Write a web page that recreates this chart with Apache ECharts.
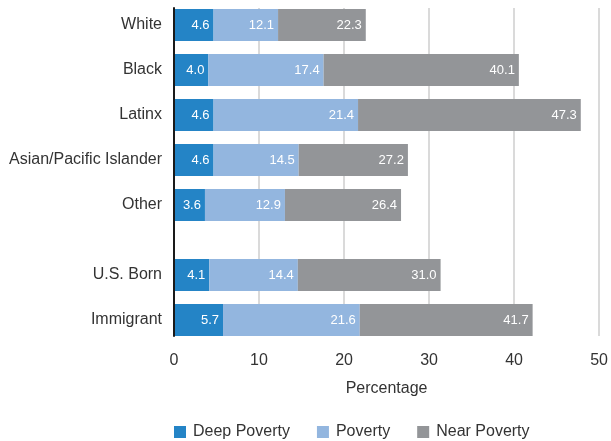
<!DOCTYPE html>
<html>
<head>
<meta charset="utf-8">
<script src="https://cdn.jsdelivr.net/npm/echarts@6/dist/echarts.min.js"></script>
<style>
  html, body { margin: 0; padding: 0; background: #fff; }
  #chart { width: 611px; height: 441px; }
</style>
</head>
<body>
<div id="chart"></div>
<script>
// groups: race/ethnicity on top, nativity below (separate block)
const raceCategories = ['White', 'Black', 'Latinx', 'Asian/Pacific Islander', 'Other'];
const nativityCategories = ['U.S. Born', 'Immigrant'];
const seriesNames = ['Deep Poverty', 'Poverty', 'Near Poverty'];

// cumulative values as printed on the bars
const raceDeep = [4.6, 4.0, 4.6, 4.6, 3.6];
const racePoverty = [12.1, 17.4, 21.4, 14.5, 12.9];
const raceNear = [22.3, 40.1, 47.3, 27.2, 26.4];

const nativityDeep = [4.1, 5.7];
const nativityPoverty = [14.4, 21.6];
const nativityNear = [31.0, 41.7];

const xTicks = [0, 10, 20, 30, 40, 50];

const colors = ['#2484c6', '#93b6df', '#939598'];
const textColor = '#333';
const font = 'Liberation Sans, Arial, Helvetica, sans-serif';

const chart = echarts.init(document.getElementById('chart'), null, { renderer: 'canvas' });

// stacked segment = difference between consecutive cumulative values
function segments(deep, pov, near) {
  return [
    deep.map((v) => ({ value: v, total: v })),
    pov.map((v, i) => ({ value: +(v - deep[i]).toFixed(1), total: v })),
    near.map((v, i) => ({ value: +(v - pov[i]).toFixed(1), total: v })),
  ];
}

const raceSeg = segments(raceDeep, racePoverty, raceNear);
const nativitySeg = segments(nativityDeep, nativityPoverty, nativityNear);

function makeSeries(segs, axisIndex, stackName) {
  return segs.map((data, k) => ({
    name: seriesNames[k],
    type: 'bar',
    stack: stackName,
    xAxisIndex: axisIndex,
    yAxisIndex: axisIndex,
    barWidth: 32,
    data: data,
    itemStyle: { color: colors[k] },
    label: {
      show: true,
      position: 'insideRight',
      distance: 4,
      color: '#fff',
      fontSize: 13,
      fontFamily: font,
      formatter: (p) => p.data.total.toFixed(1),
    },
    z: 2,
  }));
}

const hiddenX = {
  type: 'value', min: 0, max: 50, interval: 10,
  axisLine: { show: false }, axisTick: { show: false },
  axisLabel: { show: false }, splitLine: { show: false },
};

const catY = (cats, grid) => ({
  type: 'category',
  gridIndex: grid,
  data: cats,
  inverse: true,
  axisLine: { show: false },
  axisTick: { show: false },
  axisLabel: { color: textColor, fontSize: 16, fontFamily: font, margin: 12 },
});

chart.setOption({
  backgroundColor: '#fff',
  animation: false,
  grid: [
    // background grid: gridlines, x labels, left axis line
    { left: 174, width: 430, top: 8, height: 328 },
    { left: 174, width: 430, top: 2.5, height: 225 },
    { left: 174, width: 430, top: 252.5, height: 90 },
  ],
  xAxis: [
    {
      type: 'value', gridIndex: 0, min: 0, max: 50, interval: 10,
      name: 'Percentage',
      nameLocation: 'middle',
      nameGap: 45,
      nameTextStyle: { color: textColor, fontSize: 16, fontFamily: font },
      axisLine: { show: false },
      axisTick: { show: false },
      axisLabel: {
        color: textColor, fontSize: 16, fontFamily: font, margin: 17,
        formatter: (v) => (xTicks.includes(v) ? String(v) : ''),
      },
      splitLine: { show: true, lineStyle: { color: '#dadada', width: 2 } },
    },
    Object.assign({ gridIndex: 1 }, hiddenX),
    Object.assign({ gridIndex: 2 }, hiddenX),
  ],
  yAxis: [
    {
      type: 'category', gridIndex: 0, data: [''],
      axisLine: { show: true, lineStyle: { color: '#1a1a1a', width: 2 } },
      axisTick: { show: false },
      axisLabel: { show: false },
      z: 5,
    },
    catY(raceCategories, 1),
    catY(nativityCategories, 2),
  ],
  legend: {
    data: seriesNames,
    left: 169,
    top: 419,
    itemWidth: 12,
    itemHeight: 12,
    itemGap: 27,
    icon: 'rect',
    textStyle: { color: textColor, fontSize: 16, fontFamily: font, padding: [0, 0, 0, 2] },
  },
  series: [
    ...makeSeries(raceSeg, 1, 'race'),
    ...makeSeries(nativitySeg, 2, 'nativity'),
  ],
});
</script>
</body>
</html>
